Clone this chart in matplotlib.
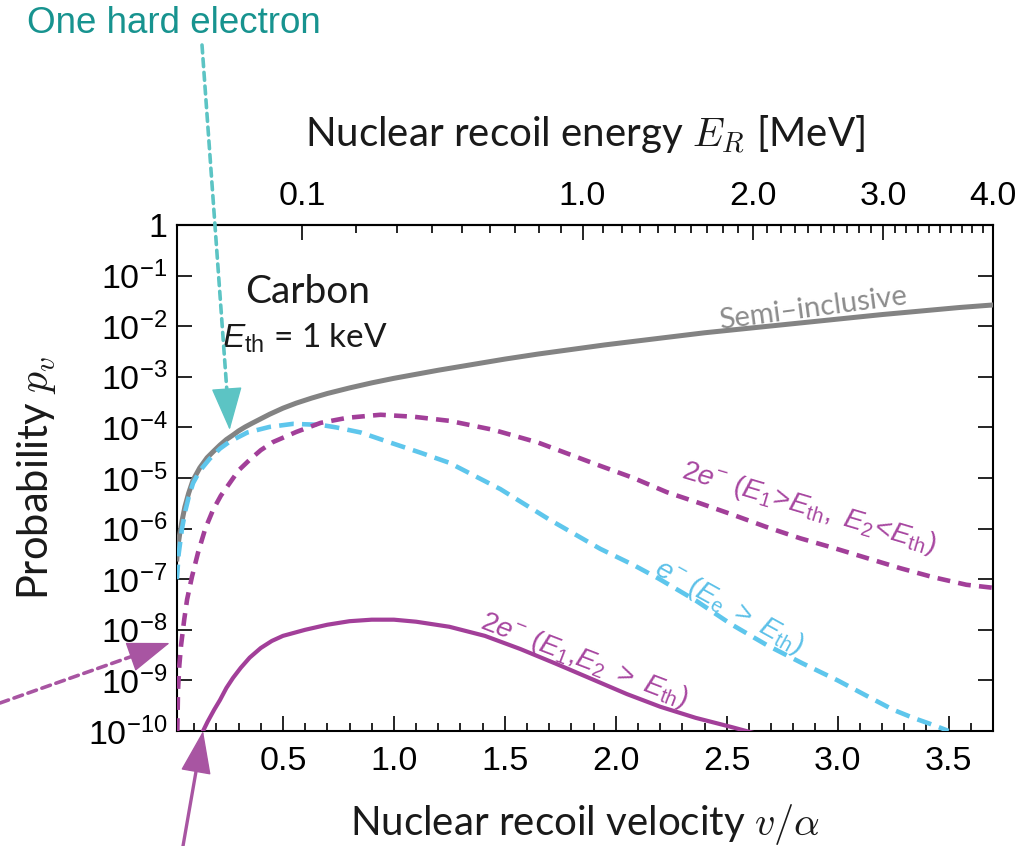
import numpy as np
import matplotlib
matplotlib.use('Agg')
import matplotlib.pyplot as plt
from matplotlib.ticker import FixedLocator, FuncFormatter, MultipleLocator

plt.rcParams['font.family'] = ['Liberation Sans', 'DejaVu Sans']
plt.rcParams['mathtext.fontset'] = 'custom'
plt.rcParams['mathtext.rm'] = 'Liberation Sans'
plt.rcParams['mathtext.it'] = 'Liberation Sans:italic'
plt.rcParams['mathtext.bf'] = 'Liberation Sans:bold'
plt.rcParams['mathtext.sf'] = 'Liberation Sans'

# values: v/alpha and log10(probability)
semi_v = [0.022, 0.028, 0.035, 0.045, 0.058, 0.075, 0.095, 0.125, 0.158, 0.19, 0.216, 0.245,
          0.275, 0.3, 0.33, 0.36, 0.4, 0.44, 0.5, 0.56, 0.63, 0.7, 0.8, 0.9, 1.0, 1.1, 1.2,
          1.35, 1.5, 1.65, 1.8, 1.95, 2.1, 2.25, 2.4, 2.6, 2.8, 3.0, 3.2, 3.4, 3.55, 3.7]
semi_log = [-6.6, -6.3, -6.1, -5.85, -5.57, -5.3, -5.04, -4.8, -4.6, -4.46, -4.35, -4.24,
            -4.15, -4.07, -3.99, -3.92, -3.83, -3.74, -3.62, -3.52, -3.42, -3.33, -3.22, -3.12, -3.03,
            -2.95, -2.87, -2.76, -2.65, -2.55, -2.46, -2.37, -2.29, -2.21, -2.13, -2.04, -1.95, -1.86,
            -1.77, -1.69, -1.63, -1.58]

one_e_v = [0.022, 0.03, 0.036, 0.045, 0.06, 0.075, 0.095, 0.125, 0.17, 0.216, 0.26, 0.34,
           0.44, 0.545, 0.67, 0.74, 0.85, 0.97, 1.12, 1.25, 1.48, 1.7, 1.93, 2.08, 2.19, 2.36,
           2.52, 2.68, 2.84, 3.0, 3.15, 3.25, 3.34, 3.43, 3.5]
one_e_log = [-7.0, -6.5, -6.3, -6.0, -5.65, -5.38, -5.1, -4.86, -4.62, -4.42, -4.28, -4.1,
             -3.99, -3.93, -3.95, -4.0, -4.1, -4.28, -4.5, -4.7, -5.22, -5.82, -6.4, -6.72, -6.98,
             -7.42, -7.89, -8.3, -8.66, -9.0, -9.35, -9.58, -9.74, -9.88, -10.0]

two_e_one_v = [0.024, 0.027, 0.033, 0.041, 0.055, 0.068, 0.09, 0.117, 0.15, 0.185, 0.22,
               0.26, 0.3, 0.35, 0.4, 0.455, 0.56, 0.67, 0.79, 0.94, 1.09, 1.25, 1.45, 1.65,
               1.93, 2.08, 2.23, 2.38, 2.53, 2.68, 2.83, 2.98, 3.13, 3.28, 3.43, 3.58, 3.7]
two_e_one_log = [-10.0, -9.2, -8.7, -8.3, -7.8, -7.4, -6.95, -6.48, -6.0, -5.63, -5.35,
                 -5.1, -4.85, -4.64, -4.45, -4.29, -4.09, -3.91, -3.81, -3.75, -3.79, -3.87, -4.05, -4.3,
                 -4.76, -5.0, -5.28, -5.5, -5.73, -5.97, -6.19, -6.38, -6.58, -6.78, -6.96, -7.11, -7.17]

two_e_both_v = [0.14, 0.16, 0.19, 0.216, 0.245, 0.275, 0.31, 0.35, 0.4, 0.45, 0.5, 0.55, 0.6,
                0.7, 0.8, 0.9, 1.0, 1.1, 1.25, 1.41, 1.57, 1.73, 1.89, 2.05, 2.2, 2.36, 2.52, 2.63]
two_e_both_log = [-10.0, -9.82, -9.58, -9.39, -9.15, -8.95, -8.75, -8.55, -8.36, -8.22, -8.12, -8.06, -8.0,
                  -7.9, -7.83, -7.8, -7.8, -7.84, -7.94, -8.12, -8.38, -8.67, -8.97, -9.27, -9.52, -9.74,
                  -9.92, -10.05]

energy_ticks = [0.1, 1.0, 2.0, 3.0, 4.0]
energy_labels = ['0.1', '1.0', '2.0', '3.0', '4.0']
velocity_ticks = [0.5, 1.0, 1.5, 2.0, 2.5, 3.0, 3.5]
decades = list(range(-10, 1))

V_PER_SQRT_MEV = 1.85

GRAY = '#838383'
CYAN = '#5ec6ec'
PURPLE = '#a23f99'
TEAL_ARROW = '#5cc4c4'
TEAL_TEXT = '#17938f'
PURPLE_ARROW = '#a855a2'
INK = '#1a1a1a'

fig = plt.figure(figsize=(10.28, 8.46), dpi=100)
ax = fig.add_axes([177 / 1028, 1 - 731 / 846, 816 / 1028, 506 / 846])

ax.plot(semi_v, 10.0 ** np.array(semi_log), color=GRAY, lw=3.6, zorder=3)
ax.plot(one_e_v, 10.0 ** np.array(one_e_log), color=CYAN, lw=3.3, ls=(0, (3.2, 1.8)), zorder=4)
ax.plot(two_e_one_v, 10.0 ** np.array(two_e_one_log), color=PURPLE, lw=3.3, ls=(0, (2.8, 1.8)), zorder=4)
ax.plot(two_e_both_v, 10.0 ** np.array(two_e_both_log), color=PURPLE, lw=3.0, zorder=4)

ax.set_yscale('log')
ax.set_ylim(1e-10, 1)
ax.set_xlim(0.0225, 3.70)

ax.xaxis.set_major_locator(FixedLocator(velocity_ticks))
ax.xaxis.set_minor_locator(MultipleLocator(0.1))
ax.yaxis.set_major_locator(FixedLocator([10.0 ** d for d in decades]))
ax.yaxis.set_minor_locator(FixedLocator([]))


def decade_label(y, pos):
    d = int(round(np.log10(y)))
    if d == 0:
        return '1'
    return r'$10^{%d}$' % d


ax.yaxis.set_major_formatter(FuncFormatter(decade_label))
ax.tick_params(which='both', direction='in', top=False, right=True, labelsize=24.5, width=1.2)
ax.tick_params(which='major', length=11)
ax.tick_params(which='minor', length=6)
ax.tick_params(axis='x', pad=11)
ax.tick_params(axis='y', pad=7)
for s in ax.spines.values():
    s.set_linewidth(1.5)

secax = ax.secondary_xaxis('top', functions=(lambda v: (np.asarray(v) / V_PER_SQRT_MEV) ** 2,
                                             lambda e: V_PER_SQRT_MEV * np.sqrt(np.abs(e))))
secax.set_xticks(energy_ticks)
secax.set_xticklabels(energy_labels)
minor_e = [round(e, 1) for e in np.arange(0.2, 4.0, 0.1) if round(e, 1) not in energy_ticks]
secax.xaxis.set_minor_locator(FixedLocator(minor_e))
secax.tick_params(which='both', direction='in', labelsize=24.5, width=1.2, pad=9)
secax.tick_params(which='major', length=11)
secax.tick_params(which='minor', length=6)
secax.spines['top'].set_linewidth(1.5)
secax.set_xlabel(r'Nuclear recoil energy $E_R$ [MeV]', fontsize=29, fontfamily='Lato',
                 math_fontfamily='cm', labelpad=25, color=INK)

ax.set_xlabel(r'Nuclear recoil velocity $v/\alpha$', fontsize=29, fontfamily='Lato',
              math_fontfamily='cm', labelpad=18, color=INK)
ax.set_ylabel(r'Probability $p_v$', fontsize=30, fontfamily='Lato',
              math_fontfamily='cm', color=INK)
ax.yaxis.set_label_coords(-0.146, 0.5)

ax.text(0.61, 10 ** -1.32, 'Carbon', fontsize=28, fontfamily='Lato', ha='center', va='center',
        color=INK)
ax.text(0.225, 10 ** -2.23, r'$E_{\mathrm{th}}$ = 1 keV', fontsize=24, fontfamily='Lato',
        ha='left', va='center', color=INK)

ax.text(2.89, 10 ** -1.66, 'Semi–inclusive', fontsize=21, fontfamily='Lato', color='#8c8c8c',
        rotation=7.6, rotation_mode='anchor', ha='center', va='center')
ax.text(2.87, 10 ** -5.6, r'$2e^{-}\ (E_1\!>\!E_{\mathrm{th}},\ E_2\!<\!E_{\mathrm{th}})$',
        fontsize=20.5, color='#a746a0', rotation=-16.5, rotation_mode='anchor', ha='center', va='center')
ax.text(2.51, 10 ** -7.55, r'$e^{-}\ (E_{\mathrm{e}}\ >\ E_{\mathrm{th}})$',
        fontsize=20.5, color='#5bc0e8', rotation=-29, rotation_mode='anchor', ha='center', va='center')
ax.text(1.86, 10 ** -8.6, r'$2e^{-}\ (E_1{,}E_2\ >\ E_{\mathrm{th}})$',
        fontsize=20.5, color='#a746a0', rotation=-21, rotation_mode='anchor', ha='center', va='center')

fig.text(27 / 1028, 1 - 33 / 846, 'One hard electron', fontsize=26.5, color=TEAL_TEXT,
         ha='left', va='baseline')

HEAD_PX = 39
head = '-|>,head_length=1.4,head_width=0.5'


def pointer(tip, tail_px, color, lw, dashes=None):
    # shaft (maybe dashed) and a solid filled head, in figure pixels
    tip_px = ax.transData.transform(tip)
    tail_px = np.array(tail_px, dtype=float)
    d = tip_px - tail_px
    u = d / np.hypot(*d)
    base = tip_px - u * HEAD_PX
    shaft = dict(arrowstyle='-', color=color, lw=lw, shrinkA=0, shrinkB=0)
    if dashes is not None:
        shaft['ls'] = (0, dashes)
    ax.annotate('', xy=tuple(base + u * 2), xycoords='figure pixels',
                xytext=tuple(tail_px), textcoords='figure pixels', annotation_clip=False,
                arrowprops=shaft)
    ax.annotate('', xy=tuple(tip_px), xycoords='figure pixels', xytext=tuple(base),
                textcoords='figure pixels', annotation_clip=False,
                arrowprops=dict(arrowstyle=head, color=color, lw=1, shrinkA=0, shrinkB=0,
                                mutation_scale=20))


pointer((0.26, 8.9e-5), (202, 846 - 45), TEAL_ARROW, 2.6, (2.2, 1.6))
pointer((-0.01, 10 ** -8.26), (0, 846 - 703), PURPLE_ARROW, 2.6, (2.5, 1.6))
pointer((0.14, 1e-10), (183, 0), PURPLE_ARROW, 2.4)

fig.savefig('out.png', dpi=100)
